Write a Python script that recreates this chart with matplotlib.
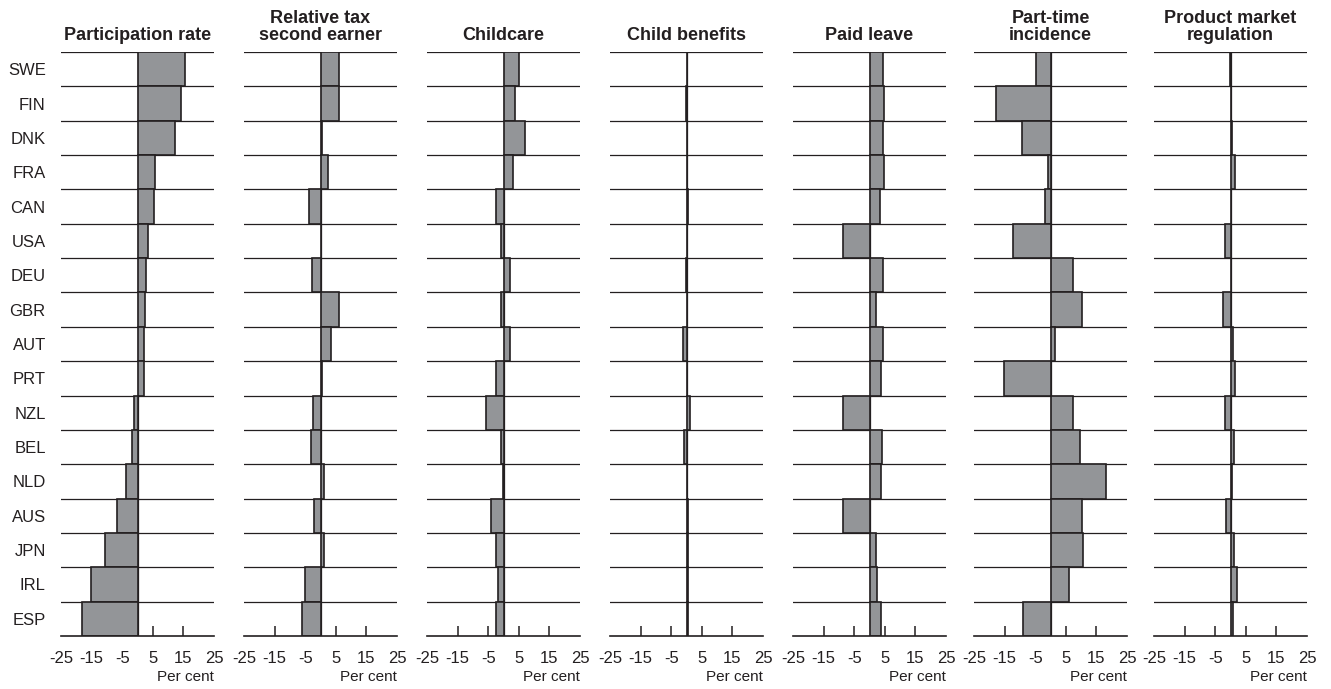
import matplotlib.pyplot as plt

plt.rcParams['font.family'] = ['Liberation Sans', 'DejaVu Sans']

countries = ['SWE', 'FIN', 'DNK', 'FRA', 'CAN', 'USA', 'DEU', 'GBR', 'AUT',
             'PRT', 'NZL', 'BEL', 'NLD', 'AUS', 'JPN', 'IRL', 'ESP']

titles = ['Participation rate', 'Relative tax\nsecond earner', 'Childcare',
          'Child benefits', 'Paid leave', 'Part-time\nincidence',
          'Product market\nregulation']

participation = [15.4, 14.3, 12.4, 5.7, 5.3, 3.4, 2.7, 2.4, 2.0, 2.0,
                 -1.1, -1.9, -3.7, -6.6, -10.5, -15.3, -18.3]
relative_tax = [5.9, 5.9, 0.4, 2.3, -3.9, 0.0, -2.8, 5.9, 3.5, 0.4,
                -2.4, -3.2, 1.2, -2.1, 1.2, -5.1, -6.0]
childcare = [5.1, 3.6, 7.1, 3.2, -2.3, -0.7, 2.1, -0.7, 2.1, -2.3,
             -5.8, -0.7, -0.2, -4.2, -2.6, -1.9, -2.6]
child_benefits = [0.0, -0.3, 0.0, 0.0, 0.5, 0.0, -0.3, 0.0, -1.1, 0.0,
                  1.0, -0.8, 0.0, 0.4, 0.4, 0.4, 0.4]
paid_leave = [4.4, 4.8, 4.4, 4.8, 3.3, -8.7, 4.4, 2.1, 4.4, 3.6,
              -8.7, 4.0, 3.6, -8.7, 2.1, 2.5, 3.6]
part_time = [-4.7, -17.9, -9.4, -0.8, -1.9, -12.2, 7.4, 10.2, 1.5, -15.3,
             7.4, 9.5, 18.3, 10.2, 10.6, 6.0, -8.9]
pmr = [-0.3, 0.0, 0.4, 1.6, 0.0, -1.9, 0.0, -2.6, 0.7, 1.6,
       -1.9, 1.0, 0.5, -1.5, 1.0, 2.0, 0.8]

panels = [participation, relative_tax, childcare, child_benefits,
          paid_leave, part_time, pmr]

tick_values = [-25, -15, -5, 5, 15, 25]
tick_labels = ['-25', '-15', '-5', '5', '15', '25']

fig = plt.figure(figsize=(13.31, 6.89), dpi=100)
W, H = 1331, 689
lefts = [61, 244, 427, 610, 793, 974, 1154]
ax_w = 153
top_px, bottom_px = 52, 636

for i, (vals, title) in enumerate(zip(panels, titles)):
    ax = fig.add_axes([lefts[i] / W, 1 - bottom_px / H, ax_w / W,
                       (bottom_px - top_px) / H])
    ypos = list(range(len(countries)))
    ax.barh(ypos, vals, height=1.0, color='#939598', edgecolor='#231f20',
            linewidth=1.2, zorder=3)
    # row separators
    for k in range(len(countries)):
        ax.axhline(k - 0.5, color='#231f20', lw=0.9, zorder=2)
    ax.axvline(0, color='#231f20', lw=0.9, zorder=2)
    ax.set_xlim(-25, 25)
    ax.set_ylim(len(countries) - 0.5, -0.5)
    for s in ['left', 'right', 'top']:
        ax.spines[s].set_visible(False)
    ax.spines['bottom'].set_color('#231f20')
    ax.spines['bottom'].set_linewidth(1.2)
    ax.spines['bottom'].set_zorder(4)
    ax.set_xticks(tick_values)
    ax.set_xticklabels(tick_labels, fontsize=12, color='#231f20')
    ax.tick_params(axis='x', direction='in', length=7, width=1.1,
                   color='#231f20', pad=11)
    ticks = ax.xaxis.get_major_ticks()
    ticks[0].tick1line.set_visible(False)
    ticks[-1].tick1line.set_visible(False)
    ax.set_xlabel('Per cent', loc='right', fontsize=11, color='#231f20',
                  labelpad=3)
    ax.set_title(title, fontsize=13, fontweight='bold', color='#231f20',
                 pad=9, linespacing=1.0)
    if i == 0:
        ax.set_yticks(ypos)
        ax.set_yticklabels(countries, fontsize=12, color='#231f20')
        ax.tick_params(axis='y', length=0, pad=11)
    else:
        ax.set_yticks([])

fig.savefig('out.png', dpi=100)
